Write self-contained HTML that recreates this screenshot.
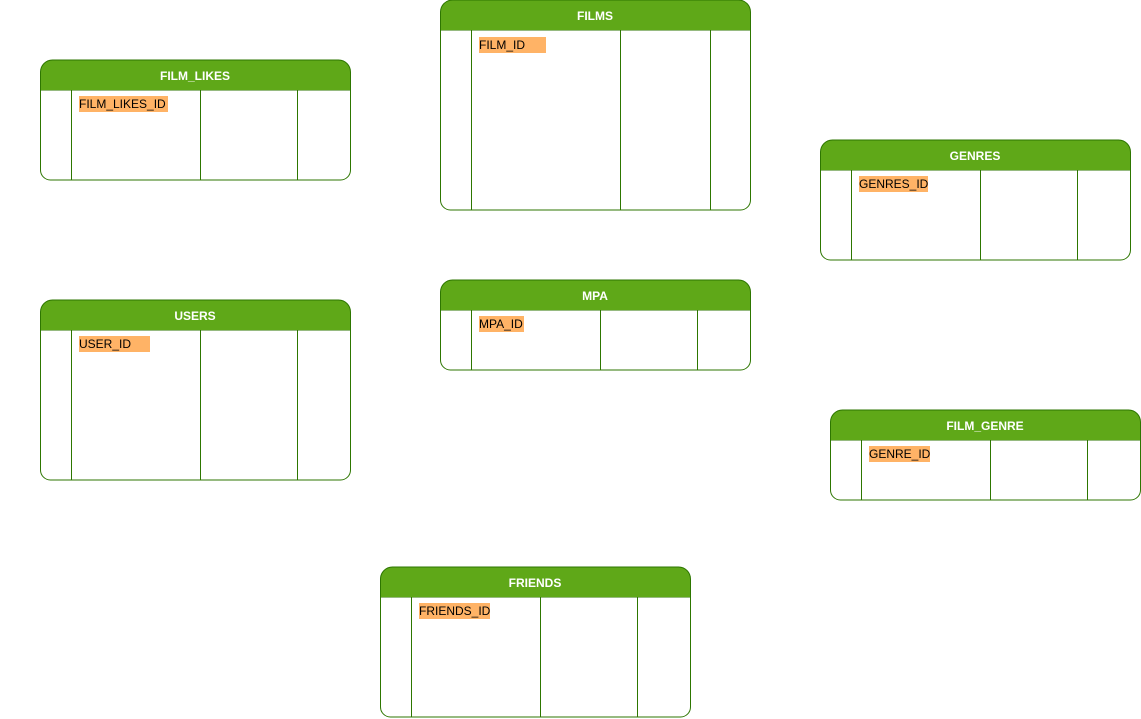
<!DOCTYPE html>
<html><head><style>body{margin:0;background:#fff}svg{display:block}</style></head><body>
<svg width="1141" height="719" xmlns="http://www.w3.org/2000/svg" font-family="Liberation Sans, sans-serif" font-size="12">
<defs>
<g id="x"></g>
</defs>
<g stroke="#2d7600" stroke-width="1">
<!-- FILM_LIKES -->
<path d="M40.5,90.5 V72 a12 12 0 0 1 12-12 H338.5 a12 12 0 0 1 12 12 V90.5 Z" fill="#5fa818"/>
<path d="M40.5,90.5 V170 a10 10 0 0 0 10 10 H340.5 a10 10 0 0 0 10-10 V90.5" fill="#fff"/>
<path d="M71.5,90.5V180M200.5,90.5V180M297.5,90.5V180"/>
<!-- FILMS -->
<path d="M440.5,30.5 V12 a12 12 0 0 1 12-12 H738.5 a12 12 0 0 1 12 12 V30.5 Z" fill="#5fa818"/>
<path d="M440.5,30.5 V200 a10 10 0 0 0 10 10 H740.5 a10 10 0 0 0 10-10 V30.5" fill="#fff"/>
<path d="M471.5,30.5V210M620.5,30.5V210M710.5,30.5V210"/>
<!-- GENRES -->
<path d="M820.5,170.5 V152 a12 12 0 0 1 12-12 H1118.5 a12 12 0 0 1 12 12 V170.5 Z" fill="#5fa818"/>
<path d="M820.5,170.5 V250 a10 10 0 0 0 10 10 H1120.5 a10 10 0 0 0 10-10 V170.5" fill="#fff"/>
<path d="M851.5,170.5V260M980.5,170.5V260M1077.5,170.5V260"/>
<!-- USERS -->
<path d="M40.5,330.5 V312 a12 12 0 0 1 12-12 H338.5 a12 12 0 0 1 12 12 V330.5 Z" fill="#5fa818"/>
<path d="M40.5,330.5 V470 a10 10 0 0 0 10 10 H340.5 a10 10 0 0 0 10-10 V330.5" fill="#fff"/>
<path d="M71.5,330.5V480M200.5,330.5V480M297.5,330.5V480"/>
<!-- MPA -->
<path d="M440.5,310.5 V292 a12 12 0 0 1 12-12 H738.5 a12 12 0 0 1 12 12 V310.5 Z" fill="#5fa818"/>
<path d="M440.5,310.5 V360 a10 10 0 0 0 10 10 H740.5 a10 10 0 0 0 10-10 V310.5" fill="#fff"/>
<path d="M471.5,310.5V370M600.5,310.5V370M697.5,310.5V370"/>
<!-- FILM_GENRE -->
<path d="M830.5,440.5 V422 a12 12 0 0 1 12-12 H1128.5 a12 12 0 0 1 12 12 V440.5 Z" fill="#5fa818"/>
<path d="M830.5,440.5 V490 a10 10 0 0 0 10 10 H1130.5 a10 10 0 0 0 10-10 V440.5" fill="#fff"/>
<path d="M861.5,440.5V500M990.5,440.5V500M1087.5,440.5V500"/>
<!-- FRIENDS -->
<path d="M380.5,597.5 V579 a12 12 0 0 1 12-12 H678.5 a12 12 0 0 1 12 12 V597.5 Z" fill="#5fa818"/>
<path d="M380.5,597.5 V707 a10 10 0 0 0 10 10 H680.5 a10 10 0 0 0 10-10 V597.5" fill="#fff"/>
<path d="M411.5,597.5V717M540.5,597.5V717M637.5,597.5V717"/>
</g>
<g fill="#ffb366">
<rect x="79" y="96" width="89" height="16"/>
<rect x="479" y="37" width="67" height="16"/>
<rect x="859" y="176" width="69" height="16"/>
<rect x="79" y="336" width="71" height="16"/>
<rect x="479" y="316" width="45" height="16"/>
<rect x="869" y="446" width="61" height="16"/>
<rect x="419" y="603" width="71" height="16"/>
</g>
<g fill="#fff" font-weight="bold" text-anchor="middle">
<text x="195" y="80">FILM_LIKES</text>
<text x="595" y="20">FILMS</text>
<text x="975" y="160">GENRES</text>
<text x="195" y="320">USERS</text>
<text x="595" y="300">MPA</text>
<text x="985" y="430">FILM_GENRE</text>
<text x="535" y="587">FRIENDS</text>
</g>
<g fill="#000">
<text x="79" y="108">FILM_LIKES_ID</text>
<text x="479" y="49">FILM_ID</text>
<text x="859" y="188">GENRES_ID</text>
<text x="79" y="348">USER_ID</text>
<text x="479" y="328">MPA_ID</text>
<text x="869" y="458">GENRE_ID</text>
<text x="419" y="615">FRIENDS_ID</text>
</g>
</svg>
</body></html>
